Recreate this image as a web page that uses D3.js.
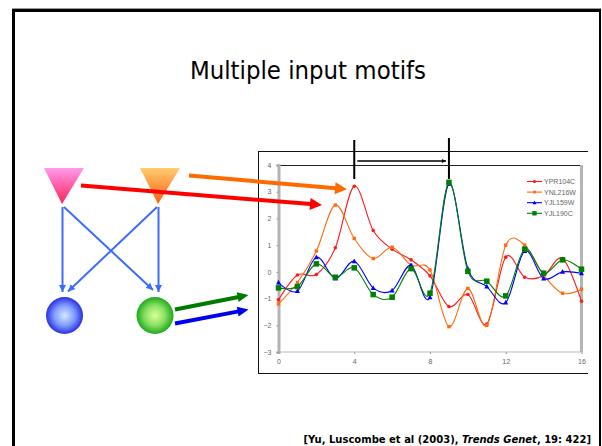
<!DOCTYPE html>
<html><head><meta charset="utf-8">
<script src="https://cdn.jsdelivr.net/npm/d3@7"></script>
<style>html,body{margin:0;padding:0;background:#fff;}svg{display:block;}</style>
</head><body>
<svg id="c" width="602" height="446"></svg>
<script>
const timePoints = d3.range(0, 17);
const seriesNames = ["YPR104C", "YNL216W", "YJL159W", "YJL190C"];
const ypr104c = [-1.05, -0.12, -0.1, 0.9, 3.2, 1.55, 0.85, 0.45, -0.15, -1.3, -0.85, -1.95, 0.55, -0.2, -0.15, 0.5, -1.1];
const ynl216w = [-1.2, -0.4, 0.78, 2.5, 1.25, 0.5, 0.92, 0.25, 0.07, -2.05, -0.62, -2.0, 1.0, 1.0, -0.12, -0.8, -0.65];
const yjl159w = [-0.4, -0.72, 0.55, -0.25, 0.4, -0.6, -0.7, 0.25, -0.95, 3.3, 0.12, -0.55, -1.15, 0.78, -0.25, 0.0, -0.05];
const yjl190c = [-0.6, -0.55, 0.3, -0.2, 0.15, -0.85, -0.95, 0.12, -0.8, 3.35, 0.02, -0.35, -0.9, 0.85, -0.05, 0.45, 0.1];
const yTicks = [4, 3, 2, 1, 0, -1, -2, -3];
const xTicks = [0, 4, 8, 12, 16];
const peakTimes = [4, 9];
const titleText = "Multiple input motifs";

const svg = d3.select("#c");
const defs = svg.append("defs");

// slide frame
svg.append("line").attr("x1", 12).attr("x2", 601).attr("y1", 8.5).attr("y2", 8.5).attr("stroke", "#9a9a9a").attr("stroke-width", 1);
svg.append("line").attr("x1", 12).attr("x2", 601).attr("y1", 10.5).attr("y2", 10.5).attr("stroke", "#000").attr("stroke-width", 3);
svg.append("line").attr("x1", 13.5).attr("x2", 13.5).attr("y1", 9).attr("y2", 446).attr("stroke", "#000").attr("stroke-width", 3);
svg.append("line").attr("x1", 600).attr("x2", 600).attr("y1", 9).attr("y2", 446).attr("stroke", "#000").attr("stroke-width", 2);

// title
svg.append("text").attr("x", 308).attr("y", 79).attr("text-anchor", "middle")
  .attr("font-family", "DejaVu Sans, Verdana, sans-serif").attr("font-size", 24).attr("fill", "#000")
  .attr("textLength", 236).attr("lengthAdjust", "spacingAndGlyphs").text(titleText);

// citation
const cit = svg.append("text").attr("x", 591).attr("y", 443).attr("text-anchor", "end")
  .attr("font-family", "DejaVu Sans, Verdana, sans-serif").attr("font-size", 10).attr("font-weight", "bold").attr("fill", "#000");
cit.append("tspan").text("[Yu, Luscombe et al (2003), ");
cit.append("tspan").attr("font-style", "italic").text("Trends Genet");
cit.append("tspan").text(", 19: 422]");

// chart box
const box = svg.append("g").attr("stroke", "#111").attr("stroke-width", 1).attr("fill", "none");
box.append("line").attr("x1", 258.5).attr("x2", 258.5).attr("y1", 151.5).attr("y2", 373.5);
box.append("line").attr("x1", 258).attr("x2", 588).attr("y1", 151.5).attr("y2", 151.5);
box.append("line").attr("x1", 258).attr("x2", 588).attr("y1", 373.5).attr("y2", 373.5);

const x = d3.scaleLinear().domain([0, 16]).range([278.5, 581.5]);
const y = d3.scaleLinear().domain([-3, 4]).range([352, 165]);

// plot area borders
svg.append("line").attr("x1", x(0)).attr("x2", x(16)).attr("y1", 165.5).attr("y2", 165.5).attr("stroke", "#222").attr("stroke-width", 1);
svg.append("line").attr("x1", x(0)).attr("x2", x(16)).attr("y1", y(-3)).attr("y2", y(-3)).attr("stroke", "#bbb").attr("stroke-width", 1);
svg.append("line").attr("x1", x(16)).attr("x2", x(16)).attr("y1", y(4)).attr("y2", y(-3)).attr("stroke", "#b4b4b4").attr("stroke-width", 3);

// axes
const yAxis = d3.axisLeft(y).tickValues(yTicks).tickSize(2).tickPadding(5).tickFormat(d3.format("d"));
const gy = svg.append("g").attr("transform", `translate(${x(0)},0)`).call(yAxis);
gy.select(".domain").attr("stroke", "#b4b4b4").attr("stroke-width", 3);
gy.selectAll(".tick line").attr("stroke", "#999");
gy.selectAll("text").attr("font-family", "Liberation Sans, Arial, sans-serif").attr("font-size", 7).attr("fill", "#666");

const xAxis = d3.axisBottom(x).tickValues(xTicks).tickSize(2).tickPadding(5).tickFormat(d3.format("d"));
const gx = svg.append("g").attr("transform", `translate(0,${y(-3)})`).call(xAxis);
gx.select(".domain").remove();
gx.selectAll(".tick line").attr("stroke", "#999");
gx.selectAll("text").attr("font-family", "Liberation Sans, Arial, sans-serif").attr("font-size", 7).attr("fill", "#666");

// series
const series = [
  {name: seriesNames[0], vals: ypr104c, color: "#ff1a1a", marker: "circle", size: 1.8},
  {name: seriesNames[1], vals: ynl216w, color: "#ff6a10", marker: "square", size: 3.4},
  {name: seriesNames[2], vals: yjl159w, color: "#0000ff", marker: "triangle", size: 5},
  {name: seriesNames[3], vals: yjl190c, color: "#008000", marker: "square", size: 5.5}
];
const line = d3.line().x((d, i) => x(timePoints[i])).y(d => y(d)).curve(d3.curveCatmullRom.alpha(0));

function drawMarker(g, type, cx, cy, s, color) {
  if (type === "circle") g.append("circle").attr("cx", cx).attr("cy", cy).attr("r", s).attr("fill", color);
  else if (type === "square") g.append("rect").attr("x", cx - s / 2).attr("y", cy - s / 2).attr("width", s).attr("height", s).attr("fill", color);
  else g.append("path").attr("d", `M${cx},${cy - s * 0.55}L${cx + s * 0.5},${cy + s * 0.4}L${cx - s * 0.5},${cy + s * 0.4}Z`).attr("fill", color);
}

series.forEach(s => {
  const g = svg.append("g");
  g.append("path").attr("d", line(s.vals)).attr("fill", "none").attr("stroke", s.color).attr("stroke-width", 1.1);
  s.vals.forEach((v, i) => drawMarker(g, s.marker, x(timePoints[i]), y(v), s.size, s.color));
});

// legend
series.forEach((s, i) => {
  const ly = 181.5 + i * 10.6;
  const g = svg.append("g");
  g.append("line").attr("x1", 527).attr("x2", 542).attr("y1", ly).attr("y2", ly).attr("stroke", s.color).attr("stroke-width", 1.1);
  drawMarker(g, s.marker, 534.5, ly, s.marker === "circle" ? 1.6 : s.size * 0.8, s.color);
  g.append("text").attr("x", 544).attr("y", ly + 2.5).attr("font-family", "Liberation Sans, Arial, sans-serif")
    .attr("font-size", 7).attr("fill", "#666").text(s.name);
});

// peak markers and shift arrow
defs.append("marker").attr("id", "ah").attr("viewBox", "0 0 10 10").attr("refX", 10).attr("refY", 5)
  .attr("markerWidth", 5).attr("markerHeight", 4).attr("markerUnits", "userSpaceOnUse").attr("orient", "auto")
  .append("path").attr("d", "M0,0L10,5L0,10Z").attr("fill", "#000");
svg.append("line").attr("x1", x(peakTimes[0])).attr("x2", x(peakTimes[0])).attr("y1", 140).attr("y2", 179).attr("stroke", "#000").attr("stroke-width", 2);
svg.append("line").attr("x1", x(peakTimes[1])).attr("x2", x(peakTimes[1])).attr("y1", 138).attr("y2", 179).attr("stroke", "#000").attr("stroke-width", 2);
svg.append("line").attr("x1", x(peakTimes[0]) + 3).attr("x2", x(peakTimes[1]) - 3).attr("y1", 161).attr("y2", 161)
  .attr("stroke", "#000").attr("stroke-width", 1.3).attr("marker-end", "url(#ah)");

// ---- network diagram ----
const gPink = defs.append("linearGradient").attr("id", "gPink").attr("x1", 0).attr("y1", 0).attr("x2", 0).attr("y2", 1);
gPink.append("stop").attr("offset", 0).attr("stop-color", "#ff99f0");
gPink.append("stop").attr("offset", 1).attr("stop-color", "#ff2255");
const gOr = defs.append("linearGradient").attr("id", "gOr").attr("x1", 0).attr("y1", 0).attr("x2", 0).attr("y2", 1);
gOr.append("stop").attr("offset", 0).attr("stop-color", "#ffcc70");
gOr.append("stop").attr("offset", 1).attr("stop-color", "#ff5e10");
const gBlue = defs.append("radialGradient").attr("id", "gBlue").attr("cx", 0.5).attr("cy", 0.5).attr("r", 0.5);
gBlue.append("stop").attr("offset", 0).attr("stop-color", "#d4e8ff");
gBlue.append("stop").attr("offset", 0.55).attr("stop-color", "#7f9cff");
gBlue.append("stop").attr("offset", 1).attr("stop-color", "#2b2fe0");
const gGreen = defs.append("radialGradient").attr("id", "gGreen").attr("cx", 0.5).attr("cy", 0.5).attr("r", 0.5);
gGreen.append("stop").attr("offset", 0).attr("stop-color", "#ddff99");
gGreen.append("stop").attr("offset", 0.55).attr("stop-color", "#88e060");
gGreen.append("stop").attr("offset", 1).attr("stop-color", "#1ea81e");

svg.append("path").attr("d", "M44,168L84,168L62,204Z").attr("fill", "url(#gPink)");
svg.append("path").attr("d", "M140,168L180,168L158,204Z").attr("fill", "url(#gOr)");

defs.append("marker").attr("id", "ahBlue").attr("viewBox", "0 0 10 10").attr("refX", 10).attr("refY", 5)
  .attr("markerWidth", 7).attr("markerHeight", 7).attr("markerUnits", "userSpaceOnUse").attr("orient", "auto")
  .append("path").attr("d", "M0,0L10,5L0,10Z").attr("fill", "#3a6cff");
const blueEdges = [[62.5, 207, 62.5, 292], [64, 207, 153, 290], [158.5, 207, 158.5, 292], [157, 207, 68, 291.5]];
blueEdges.forEach(e => svg.append("line").attr("x1", e[0]).attr("y1", e[1]).attr("x2", e[2]).attr("y2", e[3])
  .attr("stroke", "#3a6cff").attr("stroke-width", 2).attr("marker-end", "url(#ahBlue)"));

svg.append("circle").attr("cx", 64.5).attr("cy", 315.5).attr("r", 18.5).attr("fill", "url(#gBlue)");
svg.append("circle").attr("cx", 155).attr("cy", 315.5).attr("r", 18.5).attr("fill", "url(#gGreen)");

function thickArrow(x1, y1, x2, y2, color, w, hl, hw) {
  const a = Math.atan2(y2 - y1, x2 - x1);
  const bx = x2 - hl * Math.cos(a), by = y2 - hl * Math.sin(a);
  svg.append("line").attr("x1", x1).attr("y1", y1).attr("x2", bx + Math.cos(a)).attr("y2", by + Math.sin(a))
    .attr("stroke", color).attr("stroke-width", w);
  const px = -Math.sin(a) * hw / 2, py = Math.cos(a) * hw / 2;
  svg.append("path").attr("d", `M${x2},${y2}L${bx + px},${by + py}L${bx - px},${by - py}Z`).attr("fill", color);
}
thickArrow(81, 185.5, 322, 205, "#ff0000", 4, 12, 12);
thickArrow(189, 175.5, 347, 189.3, "#ff6a00", 4, 12, 12);
thickArrow(175, 309.5, 248.5, 295, "#007a00", 4, 11, 10);
thickArrow(175, 323.5, 248.5, 309.5, "#0000ee", 4, 11, 10);
</script>
</body></html>
